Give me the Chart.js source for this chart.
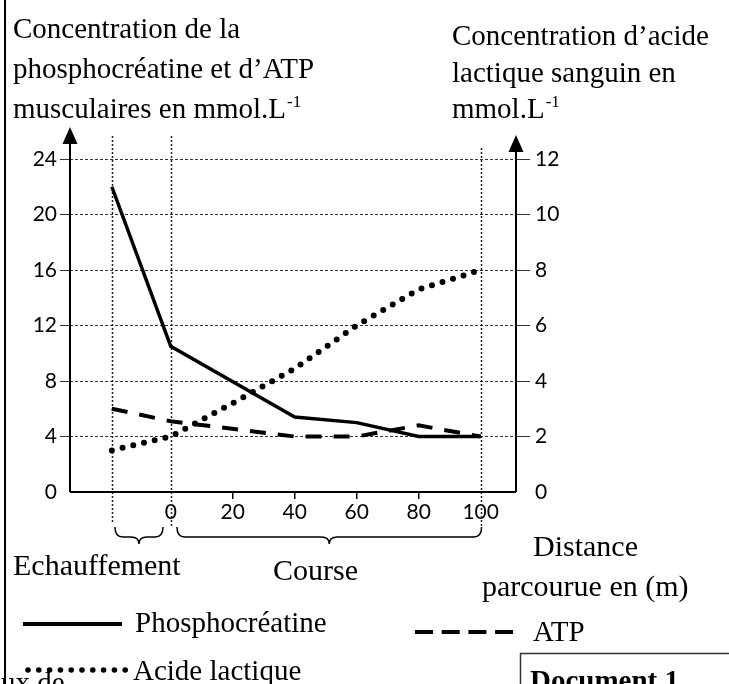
<!DOCTYPE html>
<html lang="fr">
<head>
<meta charset="utf-8">
<title>Document 1</title>
<script src="https://cdn.jsdelivr.net/npm/chart.js@4.4.1/dist/chart.umd.min.js"></script>
<style>
  html, body { margin: 0; padding: 0; background: #fff; }
  canvas { display: block; }
</style>
</head>
<body>
<canvas id="doc1" width="729" height="684"></canvas>
<script>
// distance parcourue (m) ; -19 = debut de l'echauffement
var pcDistances = [-19, 0, 40, 60, 80, 100];
var phosphocreatine = [22, 10.5, 5.4, 5, 4, 4];

var atpDistances = [-19, 0, 40, 60, 80, 100];
var atp = [6, 5.1, 4, 4, 4.8, 4];

var lactDistances = [-19, 0, 20, 40, 60, 80, 100];
var acideLactique = [1.5, 2, 3.2, 4.45, 6, 7.3, 8];

var xTicks = [0, 20, 40, 60, 80, 100];
var leftLabels = [0, 4, 8, 12, 16, 20, 24];
var rightLabels = [0, 2, 4, 6, 8, 10, 12];

var SERIF = '"Liberation Serif", "Times New Roman", serif';

function toPoints(xs, ys) {
  return xs.map(function (x, i) { return { x: x, y: ys[i] }; });
}

function gridColor(c) {
  return c.tick && c.tick.value === 0 ? 'rgba(0,0,0,0)' : '#333';
}

function drawBrace(ctx, x1, x2, y0) {
  var mid = (x1 + x2) / 2;
  ctx.beginPath();
  ctx.moveTo(x1, y0);
  ctx.quadraticCurveTo(x1, y0 + 10, x1 + 8, y0 + 10);
  ctx.lineTo(mid - 8, y0 + 10);
  ctx.quadraticCurveTo(mid, y0 + 10, mid, y0 + 17);
  ctx.quadraticCurveTo(mid, y0 + 10, mid + 8, y0 + 10);
  ctx.lineTo(x2 - 8, y0 + 10);
  ctx.quadraticCurveTo(x2, y0 + 10, x2, y0);
  ctx.stroke();
}

function textSup(ctx, txt, sup, x, y) {
  ctx.font = '29px ' + SERIF;
  ctx.fillText(txt, x, y);
  var w = ctx.measureText(txt).width;
  ctx.font = '17px ' + SERIF;
  ctx.fillText(sup, x + w + 1, y - 11);
  ctx.font = '29px ' + SERIF;
}

var overlay = {
  id: 'overlay',
  beforeDatasetsDraw: function (chart) {
    var ctx = chart.ctx, xs = chart.scales.x, a = chart.chartArea;
    ctx.save();
    ctx.strokeStyle = '#222';
    ctx.lineWidth = 1.5;
    ctx.setLineDash([2, 2]);
    [[-19, -23, 31], [0, -23, 35], [100, -11, 35]].forEach(function (v) {
      var px = Math.round(xs.getPixelForValue(v[0])) + 0.5;
      ctx.beginPath();
      ctx.moveTo(px, a.top + v[1]);
      ctx.lineTo(px, a.bottom + v[2]);
      ctx.stroke();
    });
    ctx.restore();
  },
  afterDraw: function (chart) {
    var ctx = chart.ctx, xs = chart.scales.x, a = chart.chartArea;
    ctx.save();
    ctx.strokeStyle = '#000';
    ctx.fillStyle = '#000';

    // page border on the left
    ctx.lineWidth = 2;
    ctx.beginPath();
    ctx.moveTo(5, 0);
    ctx.lineTo(5, 684);
    ctx.stroke();

    // axes with arrows
    ctx.lineWidth = 2;
    ctx.beginPath();
    ctx.moveTo(a.left, a.bottom);
    ctx.lineTo(a.right, a.bottom);
    ctx.moveTo(a.left, a.bottom);
    ctx.lineTo(a.left, a.top - 15);
    ctx.moveTo(a.right, a.bottom);
    ctx.lineTo(a.right, a.top - 7);
    ctx.stroke();
    [[a.left, a.top - 32], [a.right, a.top - 24]].forEach(function (p) {
      ctx.beginPath();
      ctx.moveTo(p[0], p[1]);
      ctx.lineTo(p[0] - 7.5, p[1] + 17);
      ctx.lineTo(p[0] + 7.5, p[1] + 17);
      ctx.closePath();
      ctx.fill();
    });

    // braces under the x axis
    ctx.lineWidth = 1.5;
    drawBrace(ctx, xs.getPixelForValue(-18), xs.getPixelForValue(-2.5), a.bottom + 35);
    drawBrace(ctx, xs.getPixelForValue(2), xs.getPixelForValue(100.3), a.bottom + 35);

    // titles
    ctx.textBaseline = 'alphabetic';
    ctx.textAlign = 'left';
    ctx.font = '29px ' + SERIF;
    ctx.fillText('Concentration de la', 13, 38);
    ctx.fillText('phosphocréatine et d\u2019ATP', 13, 78);
    textSup(ctx, 'musculaires en mmol.L', '-1', 13, 118);
    ctx.fillText('Concentration d\u2019acide', 452, 45);
    ctx.fillText('lactique sanguin en', 452, 82);
    textSup(ctx, 'mmol.L', '-1', 452, 118);

    ctx.font = '30px ' + SERIF;
    ctx.fillText('Echauffement', 13, 575);
    ctx.fillText('Course', 273, 580);
    ctx.fillText('Distance', 533, 556);
    ctx.fillText('parcourue en (m)', 482, 596);

    // legend
    ctx.font = '29px ' + SERIF;
    ctx.lineWidth = 4;
    ctx.beginPath();
    ctx.moveTo(23, 624);
    ctx.lineTo(122, 624);
    ctx.stroke();
    ctx.fillText('Phosphocréatine', 135, 632);

    ctx.setLineDash([18, 8.7]);
    ctx.beginPath();
    ctx.moveTo(415, 632);
    ctx.lineTo(513, 632);
    ctx.stroke();
    ctx.setLineDash([]);
    ctx.fillText('ATP', 533, 641);

    for (var dx = 28; dx <= 126; dx += 10.8) {
      ctx.beginPath();
      ctx.arc(dx, 670, 2.8, 0, Math.PI * 2);
      ctx.fill();
    }
    ctx.fillText('Acide lactique', 133, 680);
    ctx.fillText('ux de', 1, 692);

    // document box
    ctx.lineWidth = 1.5;
    ctx.strokeStyle = '#333';
    ctx.strokeRect(520.5, 653.5, 240, 60);
    ctx.font = 'bold 29px ' + SERIF;
    ctx.fillText('Document 1', 530, 690);
    ctx.restore();
  }
};

var ctx = document.getElementById('doc1').getContext('2d');
var tickFont = { family: 'Lato', size: 21 };

var doc1Chart = new Chart(ctx, {
  type: 'line',
  data: {
    datasets: [{
      label: 'Phosphocréatine',
      data: toPoints(pcDistances, phosphocreatine),
      yAxisID: 'y',
      borderColor: '#000',
      borderWidth: 3.5,
      pointRadius: 0,
      fill: false
    }, {
      label: 'ATP',
      data: toPoints(atpDistances, atp),
      yAxisID: 'y',
      borderColor: '#000',
      borderWidth: 4,
      borderDash: [16, 12],
      pointRadius: 0,
      fill: false
    }, {
      label: 'Acide lactique',
      data: toPoints(lactDistances, acideLactique),
      yAxisID: 'y1',
      borderColor: '#000',
      borderWidth: 6,
      borderDash: [0, 11],
      borderCapStyle: 'round',
      pointRadius: 0,
      fill: false
    }]
  },
  options: {
    responsive: false,
    animation: false,
    devicePixelRatio: 1,
    layout: { padding: { left: 0, top: 159, right: 133, bottom: 162 } },
    plugins: {
      legend: { display: false },
      tooltip: { enabled: false }
    },
    scales: {
      x: {
        type: 'linear',
        min: -32.5,
        max: 111.4,
        afterBuildTicks: function (s) { s.ticks = xTicks.map(function (v) { return { value: v }; }); },
        afterFit: function (s) { s.height = 30; },
        grid: {
          drawOnChartArea: false,
          tickLength: 7,
          lineWidth: 1.5,
          color: function (c) { return (c.tick && (c.tick.value === 0 || c.tick.value === 100)) ? 'rgba(0,0,0,0)' : '#000'; }
        },
        border: { display: false },
        ticks: { font: tickFont, color: '#000', padding: 1, maxRotation: 0, autoSkip: false }
      },
      y: {
        position: 'left',
        min: 0,
        max: 24,
        afterFit: function (s) { s.width = 70; },
        grid: { color: gridColor, lineWidth: 1, tickLength: 10 },
        border: { display: false, dash: [3, 2] },
        ticks: {
          stepSize: 2,
          font: tickFont,
          color: '#000',
          padding: 3,
          callback: function (v) { return leftLabels.indexOf(v) >= 0 ? v : ''; }
        }
      },
      y1: {
        position: 'right',
        min: 0,
        max: 12,
        afterFit: function (s) { s.width = 80; },
        grid: { drawOnChartArea: false, color: gridColor, lineWidth: 1, tickLength: 14 },
        border: { display: false, dash: [3, 2] },
        ticks: {
          stepSize: 1,
          font: tickFont,
          color: '#000',
          padding: 5,
          callback: function (v) { return rightLabels.indexOf(v) >= 0 ? v : ''; }
        }
      }
    }
  },
  plugins: [overlay]
});
</script>
</body>
</html>
